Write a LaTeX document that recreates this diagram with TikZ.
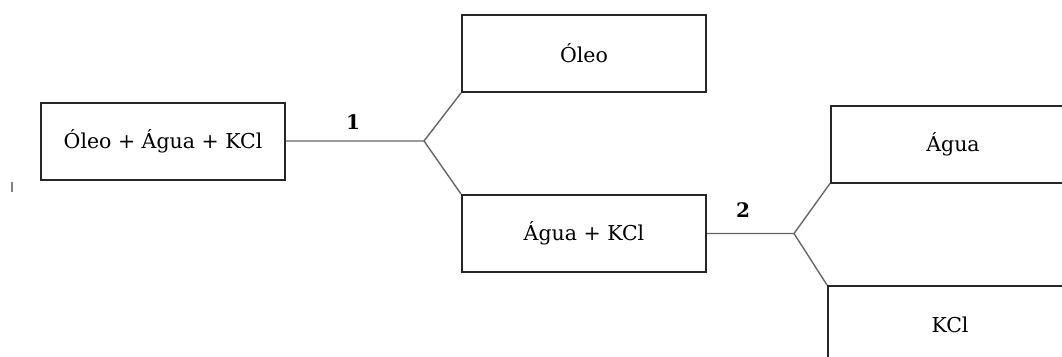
\documentclass[tikz,border=0pt]{standalone}
\usepackage{fontspec}
\setmainfont{DejaVu Serif}
\begin{document}
\begin{tikzpicture}[x=1pt,y=-1pt,
  box/.style={draw=black!85,line width=2pt,minimum width=244pt,minimum height=77pt,inner sep=0pt,font=\fontsize{20.5}{24}\selectfont},
  conn/.style={draw=black!60,line width=1.4pt},
  lbl/.style={inner sep=0pt,font=\fontsize{20}{24}\selectfont\bfseries}]
\useasboundingbox (0,0) rectangle (1062,356);
\clip (0,0) rectangle (1062,356);
\node[box] (a) at (163,141) {Óleo + Água + KCl};
\node[box] (b) at (584,53.5) {Óleo};
\node[box] (c) at (584,233.5) {Água + KCl};
\node[box] (d) at (953,144) {Água};
\node[box] (e) at (950,324.5) {KCl};
\coordinate (j1) at (424,141);
\coordinate (j2) at (794,233.5);
\draw[conn] (a.east) -- (j1) -- (b.south west);
\draw[conn] (j1) -- (c.north west);
\draw[conn] (c.east) -- (j2) -- (d.south west);
\draw[conn] (j2) -- (e.north west);
\node[lbl] (l1) at (353,122) {1};
\node[lbl] (l2) at (743,210) {2};
\coordinate (m1) at (12,182);
\coordinate (m2) at (12,192);
\draw[draw=black!50,line width=1.2pt] (m1) -- (m2);
\end{tikzpicture}
\end{document}
